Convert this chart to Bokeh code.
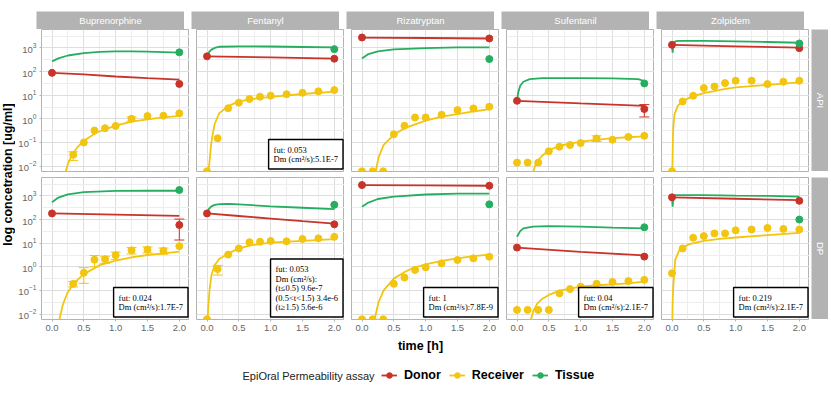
import numpy as np
from bokeh.plotting import figure
from bokeh.models import (ColumnDataSource, FixedTicker, Label, Legend, LegendItem,
                          Whisker, TeeHead, Range1d, Spacer, NumeralTickFormatter)
from bokeh.layouts import row, column
from bokeh.embed import file_html
from bokeh.resources import INLINE

# ---------------- data ----------------
DRUGS = ["Buprenorphine", "Fentanyl", "Rizatryptan", "Sufentanil", "Zolpidem"]
FORMS = ["API", "DP"]
SERIES = ["Donor", "Receiver", "Tissue"]

X_TICKS = [0.0, 0.5, 1.0, 1.5, 2.0]
X_MINOR = [0.25, 0.75, 1.25, 1.75]
Y_TICKS = [0.01, 0.1, 1.0, 10.0, 100.0, 1000.0]
Y_MINOR = [0.0316, 0.316, 3.16, 31.6, 316.0, 3162.0]

RECV_T = [0.0, 0.167, 0.333, 0.5, 0.667, 0.833, 1.0, 1.25, 1.5, 1.75, 2.0]
DONOR_T = [0.0, 2.0]
TISSUE_T = [2.0]

# measured concentrations [ug/ml] (None = not shown)
BUP_API_RECV = [None, None, 0.03, 0.1, 0.32, 0.4, 0.5, 1.0, 1.3, 1.35, 1.7]
BUP_DP_RECV = [None, None, 0.19, 0.56, 2.0, 2.1, 3.1, 5.0, 5.3, 4.8, 7.5]
FEN_API_RECV = [0.006, 0.15, 2.8, 4.8, 6.9, 8.6, 9.5, 11.0, 12.6, 14.5, 16.5]
FEN_DP_RECV = [0.006, 0.8, 3.3, 6.0, 11.0, 11.5, 12.5, 12.0, 15.0, 16.0, 18.5]
RIZ_API_RECV = [0.006, 0.006, 0.006, 0.22, 0.51, 1.14, 1.14, 1.48, 2.34, 2.76, 3.24]
RIZ_DP_RECV = [0.006, 0.006, 0.006, 0.19, 0.35, 0.74, 0.95, 1.4, 1.94, 2.28, 2.67]
SUF_API_RECV = [0.014, 0.014, 0.014, 0.042, 0.066, 0.078, 0.094, 0.148, 0.13, 0.17, 0.19]
SUF_DP_RECV = [0.015, 0.015, 0.015, 0.015, 0.075, 0.115, 0.144, 0.19, 0.23, 0.25, 0.28]
ZOL_API_RECV = [0.006, 5.4, 9.5, 20.0, 23.5, 32.5, 41.0, 41.0, 29.5, 37.0, 41.0]
ZOL_DP_RECV = [0.53, 6.0, 17.0, 20.0, 26.0, 26.0, 35.0, 38.0, 44.0, 40.0, 38.0]

BUP_API_DONOR = [88.0, 30.0]
BUP_DP_DONOR = [182.0, 59.0]
FEN_API_DONOR = [440.0, 350.0]
FEN_DP_DONOR = [182.0, 63.0]
RIZ_API_DONOR = [2770.0, 2520.0]
RIZ_DP_DONOR = [2880.0, 2700.0]
SUF_API_DONOR = [5.8, 2.6]
SUF_DP_DONOR = [6.5, 2.7]
ZOL_API_DONOR = [1350.0, 980.0]
ZOL_DP_DONOR = [870.0, 620.0]

BUP_API_TISSUE = [650.0]
BUP_DP_TISSUE = [1780.0]
FEN_API_TISSUE = [890.0]
FEN_DP_TISSUE = [420.0]
RIZ_API_TISSUE = [338.0]
RIZ_DP_TISSUE = [440.0]
SUF_API_TISSUE = [31.5]
SUF_DP_TISSUE = [47.0]
ZOL_API_TISSUE = [1550.0]
ZOL_DP_TISSUE = [100.0]

# model curves: time [h] and log10 concentration
BUP_API_DFIT_T = [0.0, 0.5, 1.0, 1.5, 2.0]
BUP_API_DFIT = [1.94, 1.88, 1.79, 1.72, 1.66]
BUP_API_TFIT_T = [0.0, 0.1, 0.25, 0.5, 0.75, 1.0, 1.25, 1.5, 1.75, 2.0]
BUP_API_TFIT = [2.43, 2.56, 2.68, 2.78, 2.83, 2.85, 2.85, 2.84, 2.82, 2.8]
BUP_API_RFIT_T = [0.21, 0.25, 0.32, 0.4, 0.5, 0.7, 1.0, 1.25, 1.5, 1.75, 2.0]
BUP_API_RFIT = [-2.3, -1.9, -1.5, -1.2, -0.93, -0.58, -0.29, -0.12, -0.02, 0.06, 0.12]

BUP_DP_DFIT_T = [0.0, 1.0, 2.0]
BUP_DP_DFIT = [2.26, 2.21, 2.16]
BUP_DP_TFIT_T = [0.0, 0.1, 0.25, 0.5, 1.0, 1.5, 2.0]
BUP_DP_TFIT = [2.73, 2.93, 3.07, 3.16, 3.21, 3.22, 3.22]
BUP_DP_RFIT_T = [0.11, 0.17, 0.24, 0.34, 0.5, 0.75, 1.0, 1.25, 1.5, 1.75, 2.0]
BUP_DP_RFIT = [-2.3, -1.6, -1.12, -0.7, -0.31, 0.07, 0.26, 0.4, 0.5, 0.57, 0.64]

FEN_API_DFIT_T = [0.0, 1.0, 2.0]
FEN_API_DFIT = [2.64, 2.6, 2.55]
FEN_API_TFIT_T = [0.0, 0.03, 0.07, 0.12, 0.2, 0.5, 1.0, 1.5, 2.0]
FEN_API_TFIT = [2.64, 2.82, 2.93, 3.0, 3.05, 3.07, 3.06, 3.04, 3.02]
FEN_API_RFIT_T = [0.02, 0.04, 0.06, 0.08, 0.12, 0.19, 0.34, 0.5, 0.75, 1.0, 1.5, 2.0]
FEN_API_RFIT = [-2.3, -1.8, -1.2, -0.8, -0.22, 0.23, 0.55, 0.74, 0.85, 0.93, 1.05, 1.15]

FEN_DP_DFIT_T = [0.0, 0.5, 1.0, 1.5, 2.0]
FEN_DP_DFIT = [2.26, 2.15, 2.04, 1.93, 1.83]
FEN_DP_TFIT_T = [0.0, 0.03, 0.07, 0.12, 0.2, 0.35, 0.5, 1.0, 1.5, 2.0]
FEN_DP_TFIT = [2.26, 2.45, 2.56, 2.62, 2.65, 2.66, 2.64, 2.56, 2.5, 2.44]
FEN_DP_RFIT_T = [0.01, 0.02, 0.04, 0.07, 0.12, 0.19, 0.34, 0.5, 0.67, 1.0, 1.5, 2.0]
FEN_DP_RFIT = [-2.3, -1.7, -0.98, -0.35, 0.07, 0.33, 0.57, 0.78, 0.9, 1.02, 1.1, 1.17]

RIZ_API_DFIT_T = [0.0, 1.0, 2.0]
RIZ_API_DFIT = [3.44, 3.42, 3.40]
RIZ_API_TFIT_T = [0.0, 0.1, 0.25, 0.5, 1.0, 1.5, 2.0]
RIZ_API_TFIT = [2.55, 2.74, 2.85, 2.94, 2.99, 3.02, 3.02]
RIZ_API_RFIT_T = [0.21, 0.26, 0.34, 0.5, 0.67, 1.0, 1.25, 1.5, 1.75, 2.0]
RIZ_API_RFIT = [-2.3, -1.63, -1.1, -0.68, -0.39, -0.08, 0.09, 0.2, 0.31, 0.41]

RIZ_DP_DFIT_T = [0.0, 1.0, 2.0]
RIZ_DP_DFIT = [3.46, 3.45, 3.43]
RIZ_DP_TFIT_T = [0.0, 0.1, 0.25, 0.5, 1.0, 1.5, 2.0]
RIZ_DP_TFIT = [2.54, 2.72, 2.87, 2.97, 3.06, 3.1, 3.1]
RIZ_DP_RFIT_T = [0.19, 0.26, 0.34, 0.5, 0.67, 0.8, 1.0, 1.25, 1.5, 1.75, 2.0]
RIZ_DP_RFIT = [-2.3, -1.5, -1.0, -0.5, -0.22, -0.05, 0.1, 0.25, 0.36, 0.45, 0.52]

SUF_API_DFIT_T = [0.0, 1.0, 2.0]
SUF_API_DFIT = [0.76, 0.65, 0.55]
SUF_API_TFIT_T = [0.0, 0.02, 0.05, 0.1, 0.2, 0.4, 1.0, 1.5, 1.9, 2.0]
SUF_API_TFIT = [0.8, 1.12, 1.4, 1.57, 1.68, 1.72, 1.72, 1.71, 1.68, 1.6]
SUF_API_RFIT_T = [0.25, 0.3, 0.4, 0.5, 0.67, 1.0, 1.25, 1.5, 1.75, 2.0]
SUF_API_RFIT = [-2.3, -1.85, -1.55, -1.33, -1.14, -0.97, -0.89, -0.82, -0.78, -0.74]

SUF_DP_DFIT_T = [0.0, 1.0, 2.0]
SUF_DP_DFIT = [0.81, 0.63, 0.48]
SUF_DP_TFIT_T = [0.0, 0.05, 0.1, 0.25, 0.5, 1.0, 1.5, 2.0]
SUF_DP_TFIT = [1.27, 1.51, 1.63, 1.70, 1.72, 1.70, 1.66, 1.63]
SUF_DP_RFIT_T = [0.21, 0.26, 0.32, 0.4, 0.5, 0.67, 1.0, 1.25, 1.5, 1.75, 2.0]
SUF_DP_RFIT = [-2.3, -1.85, -1.55, -1.35, -1.19, -1.01, -0.84, -0.78, -0.74, -0.7, -0.63]

ZOL_API_DFIT_T = [0.0, 1.0, 2.0]
ZOL_API_DFIT = [3.13, 3.07, 3.01]
ZOL_API_TFIT_T = [0.0, 0.01, 0.02, 0.05, 0.1, 0.5, 1.0, 1.5, 2.0]
ZOL_API_TFIT = [3.13, 2.8, 3.1, 3.28, 3.3, 3.3, 3.28, 3.25, 3.22]
ZOL_API_RFIT_T = [0.005, 0.01, 0.015, 0.02, 0.04, 0.09, 0.16, 0.32, 0.5, 0.82, 1.0, 1.5, 2.0]
ZOL_API_RFIT = [-2.3, -1.5, -0.8, -0.37, 0.2, 0.55, 0.74, 0.95, 1.09, 1.26, 1.33, 1.44, 1.54]

ZOL_DP_DFIT_T = [0.0, 1.0, 2.0]
ZOL_DP_DFIT = [2.94, 2.88, 2.82]
ZOL_DP_TFIT_T = [0.0, 0.01, 0.02, 0.05, 0.5, 1.0, 1.5, 2.0]
ZOL_DP_TFIT = [2.94, 2.54, 2.9, 3.03, 3.03, 3.01, 3.0, 2.97]
ZOL_DP_RFIT_T = [0.005, 0.01, 0.02, 0.05, 0.12, 0.27, 0.5, 0.75, 1.0, 1.5, 2.0]
ZOL_DP_RFIT = [-2.3, -1.5, -0.84, 0.29, 0.74, 0.96, 1.1, 1.18, 1.24, 1.34, 1.44]

# error bars: (series, time, lower, upper)
BUP_API_ERR = [("Receiver", 0.333, 0.017, 0.04), ("Receiver", 1.25, 0.8, 1.2)]
BUP_DP_ERR = [("Donor", 2.0, 13.6, 105.0),
              ("Receiver", 0.333, 0.14, 0.24), ("Receiver", 0.5, 0.2, 0.92),
              ("Receiver", 0.667, 1.0, 3.0), ("Receiver", 0.833, 1.4, 2.8),
              ("Receiver", 1.0, 2.0, 4.2), ("Receiver", 1.25, 3.5, 6.5),
              ("Receiver", 1.5, 3.9, 6.9), ("Receiver", 1.75, 3.4, 6.2)]
FEN_DP_ERR = [("Receiver", 0.167, 0.45, 1.15)]
SUF_API_ERR = [("Donor", 2.0, 1.2, 4.0), ("Receiver", 1.25, 0.11, 0.19)]

FEN_API_NOTE = "fut: 0.053\nDm (cm²/s):5.1E-7"
BUP_DP_NOTE = "fut: 0.024\nDm (cm²/s):1.7E-7"
FEN_DP_NOTE = "fut: 0.053\nDm (cm²/s):\n(t≤0.5) 9.6e-7\n(0.5<t<1.5) 3.4e-6\n(t≥1.5) 5.6e-6"
RIZ_DP_NOTE = "fut: 1\nDm (cm²/s):7.8E-9"
SUF_DP_NOTE = "fut: 0.04\nDm (cm²/s):2.1E-7"
ZOL_DP_NOTE = "fut: 0.219\nDm (cm²/s):2.1E-7"

LEGEND_TITLE = "EpiOral Permeability assay"

# ---------------- style ----------------
COLORS = {"Donor": "#C8342A", "Receiver": "#F2C511", "Tissue": "#26AE60"}
BORDER = "#B3B3B3"
STRIP = "#B3B3B3"
GRID_MAJOR = "#DEDEDE"
GRID_MINOR = "#EDEDED"
TICK_TXT = "#666666"
SANS = "Liberation Sans"
SERIF = "Liberation Serif"

FW, FH = 148, 142
GAP = 7
YAX_W = 21
YLAB_W = 15
XAX_H = 18
ROW1_PAD = 4
RSTRIP_W = 17
X_LO, X_HI = -0.165, 2.16
Y_LO, Y_HI = 10 ** -2.23, 10 ** 3.78

PANELS = {
    ("Buprenorphine", "API"): (BUP_API_RECV, BUP_API_DONOR, BUP_API_TISSUE,
                               (BUP_API_DFIT_T, BUP_API_DFIT), (BUP_API_TFIT_T, BUP_API_TFIT),
                               (BUP_API_RFIT_T, BUP_API_RFIT), BUP_API_ERR, None),
    ("Buprenorphine", "DP"): (BUP_DP_RECV, BUP_DP_DONOR, BUP_DP_TISSUE,
                              (BUP_DP_DFIT_T, BUP_DP_DFIT), (BUP_DP_TFIT_T, BUP_DP_TFIT),
                              (BUP_DP_RFIT_T, BUP_DP_RFIT), BUP_DP_ERR, BUP_DP_NOTE),
    ("Fentanyl", "API"): (FEN_API_RECV, FEN_API_DONOR, FEN_API_TISSUE,
                          (FEN_API_DFIT_T, FEN_API_DFIT), (FEN_API_TFIT_T, FEN_API_TFIT),
                          (FEN_API_RFIT_T, FEN_API_RFIT), [], FEN_API_NOTE),
    ("Fentanyl", "DP"): (FEN_DP_RECV, FEN_DP_DONOR, FEN_DP_TISSUE,
                         (FEN_DP_DFIT_T, FEN_DP_DFIT), (FEN_DP_TFIT_T, FEN_DP_TFIT),
                         (FEN_DP_RFIT_T, FEN_DP_RFIT), FEN_DP_ERR, FEN_DP_NOTE),
    ("Rizatryptan", "API"): (RIZ_API_RECV, RIZ_API_DONOR, RIZ_API_TISSUE,
                             (RIZ_API_DFIT_T, RIZ_API_DFIT), (RIZ_API_TFIT_T, RIZ_API_TFIT),
                             (RIZ_API_RFIT_T, RIZ_API_RFIT), [], None),
    ("Rizatryptan", "DP"): (RIZ_DP_RECV, RIZ_DP_DONOR, RIZ_DP_TISSUE,
                            (RIZ_DP_DFIT_T, RIZ_DP_DFIT), (RIZ_DP_TFIT_T, RIZ_DP_TFIT),
                            (RIZ_DP_RFIT_T, RIZ_DP_RFIT), [], RIZ_DP_NOTE),
    ("Sufentanil", "API"): (SUF_API_RECV, SUF_API_DONOR, SUF_API_TISSUE,
                            (SUF_API_DFIT_T, SUF_API_DFIT), (SUF_API_TFIT_T, SUF_API_TFIT),
                            (SUF_API_RFIT_T, SUF_API_RFIT), SUF_API_ERR, None),
    ("Sufentanil", "DP"): (SUF_DP_RECV, SUF_DP_DONOR, SUF_DP_TISSUE,
                           (SUF_DP_DFIT_T, SUF_DP_DFIT), (SUF_DP_TFIT_T, SUF_DP_TFIT),
                           (SUF_DP_RFIT_T, SUF_DP_RFIT), [], SUF_DP_NOTE),
    ("Zolpidem", "API"): (ZOL_API_RECV, ZOL_API_DONOR, ZOL_API_TISSUE,
                          (ZOL_API_DFIT_T, ZOL_API_DFIT), (ZOL_API_TFIT_T, ZOL_API_TFIT),
                          (ZOL_API_RFIT_T, ZOL_API_RFIT), [], None),
    ("Zolpidem", "DP"): (ZOL_DP_RECV, ZOL_DP_DONOR, ZOL_DP_TISSUE,
                         (ZOL_DP_DFIT_T, ZOL_DP_DFIT), (ZOL_DP_TFIT_T, ZOL_DP_TFIT),
                         (ZOL_DP_RFIT_T, ZOL_DP_RFIT), [], ZOL_DP_NOTE),
}


def blank_fig(w, h, fill=None):
    f = figure(width=w, height=h, x_range=Range1d(0, 1), y_range=Range1d(0, 1),
               x_axis_location=None, y_axis_location=None, toolbar_location=None,
               output_backend="svg", min_border=0)
    f.grid.grid_line_color = None
    f.outline_line_color = None
    if fill is not None:
        f.background_fill_color = fill
        f.border_fill_color = fill
    return f


def make_panel(drug, form, ci, ri):
    recv, donor, tissue, dfit, tfit, rfit, errs, note = PANELS[(drug, form)]
    p = figure(frame_width=FW, frame_height=FH,
               x_range=Range1d(X_LO, X_HI), y_range=Range1d(Y_LO, Y_HI),
               y_axis_type="log",
               x_axis_location="below" if ri == 1 else None,
               y_axis_location="left" if ci == 0 else None,
               toolbar_location=None, output_backend="svg", min_border=0)
    if ci == 0:
        p.min_border_left = YAX_W
    p.min_border_bottom = XAX_H if ri == 1 else ROW1_PAD
    p.background_fill_color = "white"
    p.outline_line_color = BORDER
    p.outline_line_width = 1

    p.xgrid.ticker = FixedTicker(ticks=X_TICKS, minor_ticks=X_MINOR)
    p.ygrid.ticker = FixedTicker(ticks=Y_TICKS, minor_ticks=Y_MINOR)
    p.grid.grid_line_color = GRID_MAJOR
    p.grid.grid_line_width = 1
    p.grid.minor_grid_line_color = GRID_MINOR
    p.grid.minor_grid_line_width = 1

    if ri == 1:
        p.xaxis.ticker = FixedTicker(ticks=X_TICKS)
        p.xaxis.formatter = NumeralTickFormatter(format="0.0")
    if ci == 0:
        p.yaxis.ticker = FixedTicker(ticks=Y_TICKS)
    for a in list(p.xaxis) + list(p.yaxis):
        a.axis_line_color = None
        a.major_tick_line_color = BORDER
        a.major_tick_out = 2
        a.major_tick_in = 0
        a.minor_tick_line_color = None
        a.major_label_standoff = 3
        a.major_label_text_font = SANS
        a.major_label_text_font_size = "9.5px"
        a.major_label_text_color = TICK_TXT

    # model curves
    for name, (ft, fv) in (("Donor", dfit), ("Receiver", rfit), ("Tissue", tfit)):
        p.line(x=ft, y=list(10 ** np.array(fv)), line_color=COLORS[name], line_width=1.8)

    # error bars
    for name in SERIES:
        sel = [e for e in errs if e[0] == name]
        if sel:
            src = ColumnDataSource(dict(t=[e[1] for e in sel], lo=[e[2] for e in sel],
                                        hi=[e[3] for e in sel]))
            w = Whisker(source=src, base="t", lower="lo", upper="hi", dimension="height",
                        line_color=COLORS[name], line_width=1,
                        upper_head=TeeHead(size=10, line_color=COLORS[name], line_width=1),
                        lower_head=TeeHead(size=10, line_color=COLORS[name], line_width=1))
            p.add_layout(w)

    # measured points
    for name, ts, vs in (("Donor", DONOR_T, donor), ("Receiver", RECV_T, recv),
                         ("Tissue", TISSUE_T, tissue)):
        pts = [(t, v) for t, v in zip(ts, vs) if v is not None]
        src = ColumnDataSource(dict(t=[a for a, _ in pts], c=[b for _, b in pts]))
        p.scatter(x="t", y="c", source=src, size=7, fill_color=COLORS[name],
                  line_color=COLORS[name])

    if note:
        p.add_layout(Label(x=FW - 1.5, y=2.5, x_units="screen", y_units="screen",
                           text=note, anchor="bottom_right", text_align="left",
                           text_font=SERIF, text_font_size="8.5px", text_color="black",
                           text_line_height=0.95, padding=5,
                           border_line_color="black", border_line_width=1.4,
                           background_fill_color="white"))
    return p


# ---------------- layout ----------------
strip_row = [Spacer(width=YLAB_W + YAX_W, height=18)]
for i, d in enumerate(DRUGS):
    s = blank_fig(FW, 18, STRIP)
    s.add_layout(Label(x=FW / 2, y=9, x_units="screen", y_units="screen", text=d,
                       text_align="center", text_baseline="middle", text_color="white",
                       text_font=SANS, text_font_size="9.5px"))
    if i > 0:
        strip_row.append(Spacer(width=GAP, height=18))
    strip_row.append(s)

panel_rows = []
for ri, form in enumerate(FORMS):
    items = []
    for ci, d in enumerate(DRUGS):
        if ci > 0:
            items.append(Spacer(width=GAP, height=FH))
        items.append(make_panel(d, form, ci, ri))
    items.append(Spacer(width=2, height=FH))
    rs = blank_fig(RSTRIP_W, FH, STRIP)
    rs.add_layout(Label(x=RSTRIP_W / 2, y=FH / 2, x_units="screen", y_units="screen",
                        text=form, angle=-np.pi / 2, text_align="center",
                        text_baseline="middle", text_color="white", text_font=SANS,
                        text_font_size="9.5px"))
    pad = XAX_H if ri == 1 else ROW1_PAD
    items.append(column(rs, Spacer(width=RSTRIP_W, height=pad)))
    panel_rows.append(row(*items))

ylab = blank_fig(YLAB_W, 2 * FH + 6)
ylab.add_layout(Label(x=YLAB_W / 2, y=FH + 3, x_units="screen", y_units="screen",
                      text="log concetration [ug/ml]", angle=np.pi / 2,
                      text_align="center", text_baseline="middle", text_color="black",
                      text_font=SANS, text_font_size="12.5px", text_font_style="bold"))

xlab_w = 5 * FW + 4 * GAP
xlab = blank_fig(xlab_w, 16)
xlab.add_layout(Label(x=xlab_w / 2, y=8, x_units="screen", y_units="screen",
                      text="time [h]", text_align="center", text_baseline="middle",
                      text_color="black", text_font=SANS, text_font_size="12.5px",
                      text_font_style="bold"))

LEG_W, LEG_H = 823, 20
lf = blank_fig(LEG_W, LEG_H)
lf.add_layout(Label(x=242, y=LEG_H / 2, x_units="screen", y_units="screen",
                    text=LEGEND_TITLE, text_align="left", text_baseline="middle",
                    text_color="#222222", text_font=SANS, text_font_size="11px"))
leg_items = []
for name in SERIES:
    # key-only renderers (a single missing value: nothing is drawn in the frame)
    lr = lf.line(x=[float("nan")], y=[float("nan")], line_color=COLORS[name], line_width=1.8)
    sr = lf.scatter(x=[float("nan")], y=[float("nan")], size=7, fill_color=COLORS[name],
                    line_color=COLORS[name])
    leg_items.append(LegendItem(label=name, renderers=[lr, sr]))
legend = Legend(items=leg_items, orientation="horizontal", location=(381, 3),
                label_text_font=SANS, label_text_font_size="12.5px",
                label_text_font_style="bold", label_text_color="black", label_standoff=7,
                label_height=14, glyph_width=16, glyph_height=14, spacing=8,
                padding=0, margin=0, border_line_color=None, background_fill_alpha=0)
lf.add_layout(legend)

layout = column(
    Spacer(width=10, height=11),
    row(*strip_row),
    row(ylab, column(panel_rows[0], Spacer(width=10, height=6 - ROW1_PAD), panel_rows[1])),
    row(Spacer(width=YLAB_W + YAX_W, height=16), xlab),
    Spacer(width=10, height=12),
    lf,
)

open("out.html", "w").write(file_html(layout, INLINE))
